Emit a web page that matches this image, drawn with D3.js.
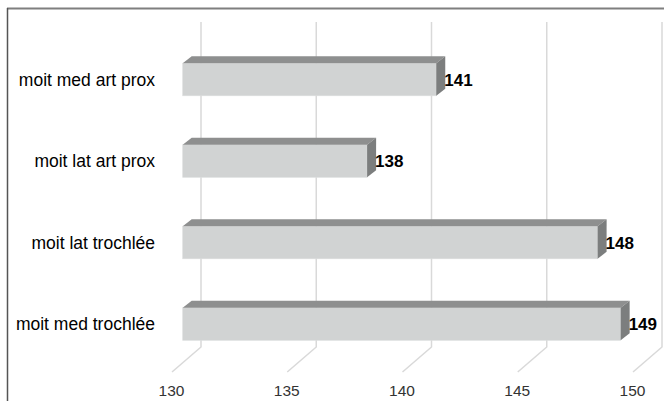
<!DOCTYPE html>
<html>
<head>
<meta charset="utf-8">
<script src="https://cdn.jsdelivr.net/npm/d3@7"></script>
<style>
  html, body { margin: 0; padding: 0; background: #ffffff; }
  svg { display: block; }
</style>
</head>
<body>
<svg id="chart" width="664" height="401"></svg>
<script>
// ---- data ----
const categories = ["moit med art prox", "moit lat art prox", "moit lat trochlée", "moit med trochlée"];
const values = [141, 138, 148, 149];
const tickValues = [130, 135, 140, 145, 150];
const axisMin = 130, axisMax = 150;

const svg = d3.select("#chart");
const W = 664, H = 401;

// frame
svg.append("line").attr("x1", 7).attr("x2", W).attr("y1", 8.5).attr("y2", 8.5)
  .attr("stroke", "#7f7f7f").attr("stroke-width", 2);
svg.append("line").attr("x1", 7.5).attr("x2", 7.5).attr("y1", 8).attr("y2", H)
  .attr("stroke", "#555555").attr("stroke-width", 1.5);

// scales: floor-front plane, back wall = front + depth, bars in between
const xFloor = d3.scaleLinear().domain([axisMin, axisMax]).range([172, 633]);
const depthDX = 29, depthDY = -25;
const floorFrontY = 372, wallTopY = 22;
const barOffset = 10.7;               // bar front face plane offset from floor-front
const barDX = 9, barDY = -7;          // bar depth
const xBar = v => xFloor(v) + barOffset;

const y = d3.scaleBand().domain(categories).range([38.75, 364.75])
  .paddingInner(0.6).paddingOuter(0.3);

// gridlines (back wall + floor)
const grid = svg.append("g").attr("fill", "none").attr("stroke", "#d9d9d9").attr("stroke-width", 1.5);
grid.selectAll("path").data(tickValues).join("path")
  .attr("d", v => {
    const fx = xFloor(v), bx = fx + depthDX, by = floorFrontY + depthDY;
    return `M${bx},${wallTopY}L${bx},${by}L${fx},${floorFrontY}`;
  });

// bars
const data = categories.map((c, i) => ({ c, v: values[i] }));
const bars = svg.append("g").selectAll("g").data(data).join("g");

bars.append("rect")
  .attr("x", xBar(axisMin))
  .attr("y", d => y(d.c))
  .attr("width", d => xBar(d.v) - xBar(axisMin))
  .attr("height", y.bandwidth())
  .attr("fill", "#d1d3d3").attr("stroke", "#dcdede").attr("stroke-width", 0.6);

bars.append("path")  // top face
  .attr("d", d => {
    const x0 = xBar(axisMin), x1 = xBar(d.v), t = y(d.c);
    return `M${x0},${t}L${x0 + barDX},${t + barDY}L${x1 + barDX},${t + barDY}L${x1},${t}Z`;
  })
  .attr("fill", "#8e8f8f");

bars.append("path")  // side face
  .attr("d", d => {
    const x1 = xBar(d.v), t = y(d.c), b = t + y.bandwidth();
    return `M${x1},${t}L${x1 + barDX},${t + barDY}L${x1 + barDX},${b + barDY}L${x1},${b}Z`;
  })
  .attr("fill", "#7c7e7e");

// value labels
bars.append("text")
  .attr("x", d => xBar(d.v) + barDX - 1)
  .attr("y", d => y(d.c) + y.bandwidth() / 2)
  .attr("dy", "0.36em")
  .attr("font-family", "'Liberation Sans', Arial, sans-serif")
  .attr("font-size", 17).attr("font-weight", "bold").attr("fill", "#000")
  .text(d => d.v);

// category labels
svg.append("g").selectAll("text").data(categories).join("text")
  .attr("x", 155)
  .attr("y", c => y(c) + y.bandwidth() / 2)
  .attr("dy", "0.36em")
  .attr("text-anchor", "end")
  .attr("font-family", "'Liberation Sans', Arial, sans-serif")
  .attr("font-size", 17.5).attr("fill", "#000")
  .text(c => c);

// value axis (labels only)
const axis = svg.append("g").attr("transform", "translate(0,385)")
  .call(d3.axisBottom(xFloor).tickValues(tickValues).tickSize(0).tickPadding(0).tickFormat(d3.format("d")));
axis.select(".domain").remove();
axis.selectAll("text")
  .attr("font-family", "'Liberation Sans', Arial, sans-serif")
  .attr("font-size", 15.5).attr("fill", "#333333")
  .attr("x", -1);
</script>
</body>
</html>
